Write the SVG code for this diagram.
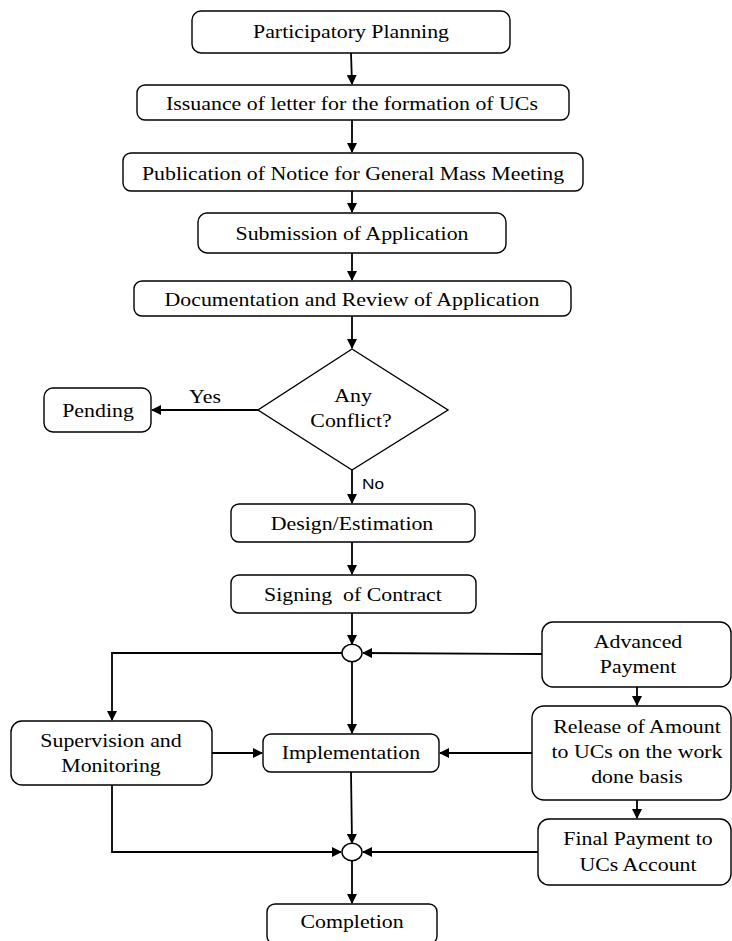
<svg xmlns="http://www.w3.org/2000/svg" width="732" height="941" viewBox="0 0 732 941">
<style>
.box{fill:#fff;stroke:#000;stroke-width:1.4}
.t{font-family:"Liberation Serif","Times New Roman",serif;font-size:19px;fill:#000;text-anchor:middle;white-space:pre}
.s{font-family:"Liberation Sans",Arial,sans-serif;font-size:15px;fill:#000}
.c{fill:none;stroke:#000;stroke-width:1.8}
</style>
<defs>
<marker id="ah" markerUnits="userSpaceOnUse" markerWidth="10" markerHeight="10" refX="9" refY="5" orient="auto">
<path d="M0,0 L10,5 L0,10 z" fill="#000"/>
</marker>
</defs>
<rect width="732" height="941" fill="#fff"/>
<g id="connectors">
<line class="c" x1="351" y1="53" x2="352" y2="84" marker-end="url(#ah)"/>
<line class="c" x1="352" y1="120" x2="352" y2="152" marker-end="url(#ah)"/>
<line class="c" x1="352" y1="191" x2="352" y2="212" marker-end="url(#ah)"/>
<line class="c" x1="352" y1="253" x2="352" y2="280" marker-end="url(#ah)"/>
<line class="c" x1="352" y1="316" x2="352" y2="348" marker-end="url(#ah)"/>
<line class="c" x1="258" y1="410" x2="152" y2="410" marker-end="url(#ah)"/>
<line class="c" x1="352" y1="470" x2="352" y2="503" marker-end="url(#ah)"/>
<line class="c" x1="352" y1="542" x2="352" y2="574" marker-end="url(#ah)"/>
<line class="c" x1="352" y1="613" x2="352" y2="644" marker-end="url(#ah)"/>
<polyline class="c" points="342,653 112,653 112,720" marker-end="url(#ah)"/>
<line class="c" x1="542" y1="654" x2="363" y2="653" marker-end="url(#ah)"/>
<line class="c" x1="352" y1="662" x2="352" y2="733" marker-end="url(#ah)"/>
<line class="c" x1="212" y1="753" x2="262" y2="753" marker-end="url(#ah)"/>
<line class="c" x1="637" y1="687" x2="637" y2="705" marker-end="url(#ah)"/>
<line class="c" x1="532" y1="753" x2="440" y2="753" marker-end="url(#ah)"/>
<line class="c" x1="637" y1="800" x2="637" y2="818" marker-end="url(#ah)"/>
<line class="c" x1="351" y1="772" x2="352" y2="843" marker-end="url(#ah)"/>
<polyline class="c" points="112,785 112,852 341,852" marker-end="url(#ah)"/>
<line class="c" x1="538" y1="852" x2="363" y2="852" marker-end="url(#ah)"/>
<line class="c" x1="352" y1="861" x2="352" y2="903" marker-end="url(#ah)"/>
</g>
<g id="n_participatory">
<rect class="box" x="192" y="11" width="318" height="42" rx="9"/>
<text class="t" transform="translate(351,38) scale(1.15,1)">Participatory Planning</text>
</g>
<g id="n_issuance">
<rect class="box" x="137" y="85" width="432" height="35" rx="8"/>
<text class="t" transform="translate(352,109.5) scale(1.15,1)">Issuance of letter for the formation of UCs</text>
</g>
<g id="n_publication">
<rect class="box" x="123" y="153" width="460" height="38" rx="8"/>
<text class="t" transform="translate(353,179.5) scale(1.15,1)">Publication of Notice for General Mass Meeting</text>
</g>
<g id="n_submission">
<rect class="box" x="198" y="213" width="308" height="40" rx="9"/>
<text class="t" transform="translate(352,239.5) scale(1.15,1)">Submission of Application</text>
</g>
<g id="n_documentation">
<rect class="box" x="134" y="281" width="437" height="35" rx="8"/>
<text class="t" transform="translate(352,305.5) scale(1.15,1)">Documentation and Review of Application</text>
</g>
<g id="n_conflict">
<polygon class="box" points="352,349 448,410 352,470 258,410"/>
<text class="t" transform="translate(353,402) scale(1.15,1)">Any</text>
<text class="t" transform="translate(351,427) scale(1.15,1)">Conflict?</text>
</g>
<g id="n_pending">
<rect class="box" x="44" y="388" width="107" height="44" rx="9"/>
<text class="t" transform="translate(98,416.5) scale(1.15,1)">Pending</text>
</g>
<text class="t" transform="translate(205,403) scale(1.15,1)">Yes</text>
<text class="s" transform="translate(362,489) scale(1.15,1)">No</text>
<g id="n_design">
<rect class="box" x="231" y="504" width="244" height="38" rx="8"/>
<text class="t" transform="translate(352,529.5) scale(1.15,1)">Design/Estimation</text>
</g>
<g id="n_signing">
<rect class="box" x="231" y="575" width="245" height="38" rx="8"/>
<text class="t" transform="translate(353,600.5) scale(1.15,1)">Signing  of Contract</text>
</g>
<g id="n_junction1">
<ellipse class="box" cx="352" cy="653" rx="10" ry="8.7"/>
</g>
<g id="n_advanced">
<rect class="box" x="542" y="622" width="189" height="65" rx="11"/>
<text class="t" transform="translate(638,648) scale(1.15,1)">Advanced</text>
<text class="t" transform="translate(638,673) scale(1.15,1)">Payment</text>
</g>
<g id="n_supervision">
<rect class="box" x="11" y="721" width="201" height="64" rx="11"/>
<text class="t" transform="translate(111,747) scale(1.15,1)">Supervision and</text>
<text class="t" transform="translate(111,772) scale(1.15,1)">Monitoring</text>
</g>
<g id="n_implementation">
<rect class="box" x="263" y="734" width="176" height="38" rx="8"/>
<text class="t" transform="translate(351,759) scale(1.15,1)">Implementation</text>
</g>
<g id="n_release">
<rect class="box" x="532" y="706" width="199" height="94" rx="12"/>
<text class="t" transform="translate(637,733) scale(1.15,1)">Release of Amount</text>
<text class="t" transform="translate(637,758) scale(1.15,1)">to UCs on the work</text>
<text class="t" transform="translate(637,783) scale(1.15,1)">done basis</text>
</g>
<g id="n_final">
<rect class="box" x="538" y="819" width="193" height="66" rx="11"/>
<text class="t" transform="translate(638,845) scale(1.15,1)">Final Payment to</text>
<text class="t" transform="translate(638,871) scale(1.15,1)">UCs Account</text>
</g>
<g id="n_junction2">
<ellipse class="box" cx="352" cy="852" rx="10" ry="8.7"/>
</g>
<g id="n_completion">
<rect class="box" x="267" y="904" width="170" height="40" rx="8"/>
<text class="t" transform="translate(352,928) scale(1.15,1)">Completion</text>
</g>
</svg>
